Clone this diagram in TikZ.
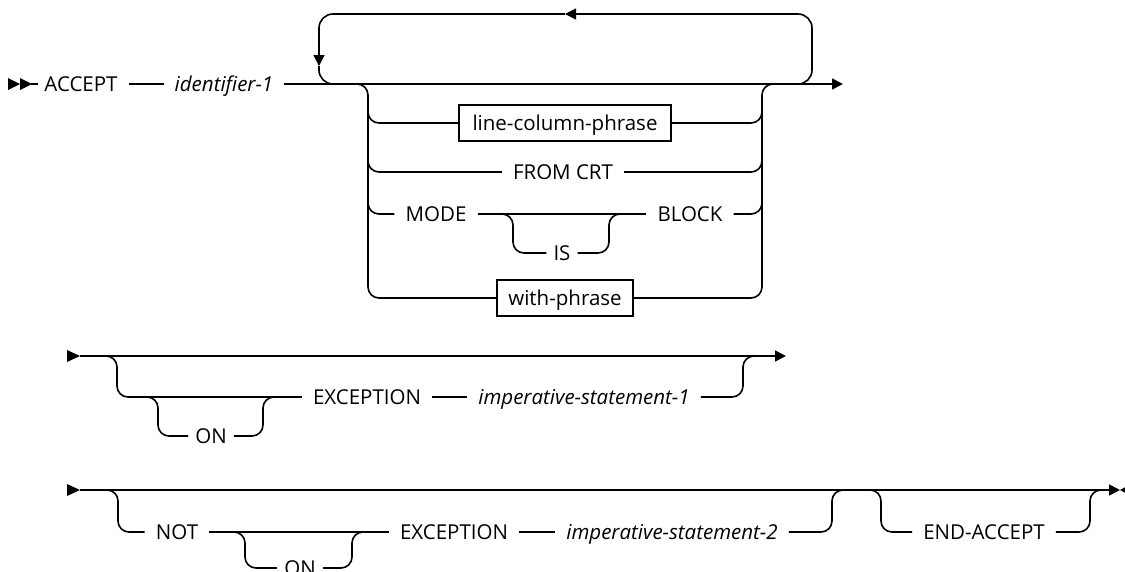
\documentclass[tikz,border=0pt]{standalone}
\usepackage{fontspec}
\setmainfont{Open Sans}
\usetikzlibrary{arrows.meta}
\begin{document}
\begin{tikzpicture}[x=1pt,y=-1pt,
  rail/.style={line width=1.6pt, rounded corners=11pt},
  loopline/.style={line width=1.6pt, rounded corners=14pt},
  kw/.style={inner xsep=11pt, inner ysep=0pt, text height=15pt, text depth=0pt, font=\fontsize{20.5}{24}\selectfont},
  var/.style={kw, font=\fontsize{20.5}{24}\selectfont\itshape},
  refbox/.style={draw, line width=1.4pt, inner xsep=8pt, inner ysep=0pt, text height=15pt, text depth=0pt, minimum height=36pt, font=\fontsize{20.5}{24}\selectfont},
  tip/.style={-{Triangle[length=11pt,width=11pt]}},
  marker/.style={fill=black}
]
\useasboundingbox (0,0) rectangle (1125,571);

% ---------- row 1 ----------
\fill[marker] (8,78) -- (20,84) -- (8,90) -- cycle;
\fill[marker] (20,78) -- (32,84) -- (20,90) -- cycle;
\coordinate (s1) at (31,84);
\node[kw] (accept) at (81,84) {ACCEPT};
\node[var] (id1) at (224,84) {identifier-1};
\coordinate (e1) at (843,84);
\draw[rail] (s1) -- ([xshift=5pt]accept.west);
\draw[rail] (accept) -- (id1);
\draw[rail, tip] (id1) -- (e1);

% repeat loop
\coordinate (loopin) at (790,84);
\coordinate (loopTR) at (812,14);
\coordinate (looptip) at (565,14);
\coordinate (downtip) at (319,66);
\coordinate (loopout) at (345,84);
\draw[loopline, tip] (loopin) -| (loopTR) -- (looptip);
\draw[loopline, tip] (looptip) -| (downtip);
\draw[loopline] (downtip) |- (loopout);

% choice block
\node[refbox, minimum width=212pt] (lcp) at (565,123) {line-column-phrase};
\node[kw] (from) at (563,172) {FROM CRT};
\node[kw] (mode) at (436,214) {MODE};
\node[kw] (block) at (690,214) {BLOCK};
\node[kw, inner xsep=7pt] (is) at (562,253) {IS};
\node[refbox, minimum width=136pt] (with) at (565,298) {with-phrase};

\draw[rail] (355,84) -| (368,298) -- (with.west);
\draw[rail] (368,100) |- (lcp.west);
\draw[rail] (368,150) |- (from.west);
\draw[rail] (368,190) |- (mode.west);
\draw[rail] (with.east) -| (762,84) -- (775,84);
\draw[rail] (lcp.east) -| (762,100);
\draw[rail] (from.east) -| (762,150);
\draw[rail] (block.east) -| (762,190);

\draw[rail] (mode) -- (block);
\draw[rail] (503,214) -| (513,253) -- (is.west);
\draw[rail] (is.east) -| (609,214) -- (620,214);

% ---------- row 2 ----------
\fill[marker] (67,350) -- (80,356) -- (67,362) -- cycle;
\coordinate (s2) at (80,356);
\coordinate (e2) at (786,356);
\draw[rail, tip] (s2) -- (e2);
\node[kw, inner xsep=7pt] (on1) at (211,436) {ON};
\node[kw] (exc1) at (367,397) {EXCEPTION};
\node[var] (imp1) at (584,397) {imperative-statement-1};
\draw[rail] (105,356) -| (117,397) -- (exc1.west);
\draw[rail] (148,397) -| (158,436) -- (on1.west);
\draw[rail] (on1.east) -| (263,397) -- (273,397);
\draw[rail] (exc1) -- (imp1);
\draw[rail] (imp1.east) -| (743,356) -- (755,356);

% ---------- row 3 ----------
\fill[marker] (67,484) -- (80,490) -- (67,496) -- cycle;
\coordinate (s3) at (80,490);
\coordinate (e3) at (1120,490);
\draw[rail, tip] (s3) -- (e3);
\fill[marker] (1131,484) -- (1120,490) -- (1131,496) -- cycle;
\node[kw] (not) at (177,532) {NOT};
\node[kw, inner xsep=7pt] (on2) at (300,568) {ON};
\node[kw] (exc2) at (454,532) {EXCEPTION};
\node[var] (imp2) at (672,532) {imperative-statement-2};
\node[kw] (endacc) at (984,532) {END-ACCEPT};
\draw[rail] (106,490) -| (118,532) -- (not.west);
\draw[rail] (not) -- (exc2);
\draw[rail] (235,532) -| (245,568) -- (on2.west);
\draw[rail] (on2.east) -| (352,532) -- (362,532);
\draw[rail] (exc2) -- (imp2);
\draw[rail] (imp2.east) -| (832,490) -- (844,490);
\draw[rail] (870,490) -| (881,532) -- (endacc.west);
\draw[rail] (endacc.east) -| (1090,490) -- (1100,490);
\end{tikzpicture}
\end{document}
